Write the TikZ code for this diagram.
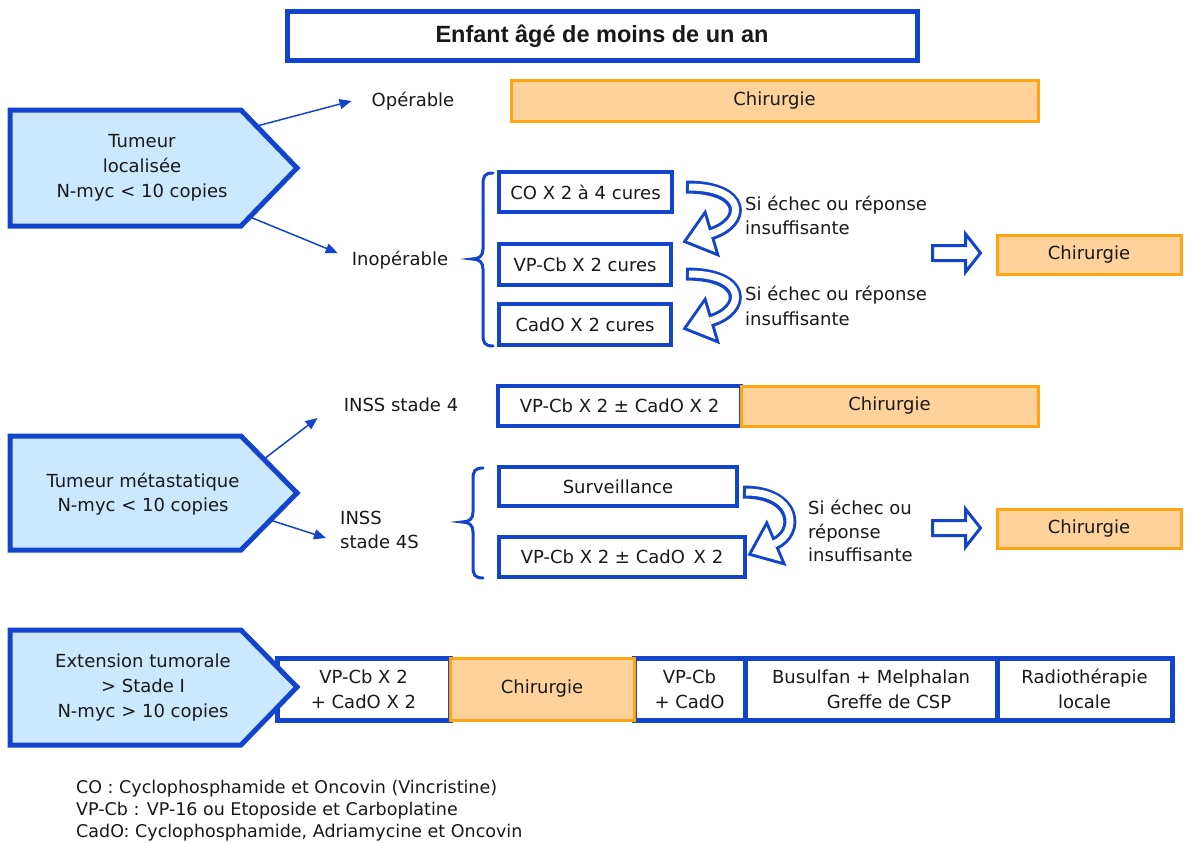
\documentclass[tikz,border=0pt]{standalone}
\usepackage{fontspec}
\setmainfont{DejaVu Sans}
\newfontfamily\titlefont{Liberation Sans}
\usetikzlibrary{arrows.meta,calc}
\definecolor{bblue}{RGB}{18,68,204}
\definecolor{lblue}{RGB}{204,232,255}
\definecolor{oborder}{RGB}{255,165,20}
\definecolor{ofill}{RGB}{255,210,155}
\definecolor{txt}{RGB}{25,25,25}
\newcommand{\hollowcurve}[4]{%
  \draw[bblue, line width=13pt] (#1) .. controls (#2) and (#3) .. (#4);
  \coordinate (hcE) at (#4);
  \coordinate (hcC) at (#3);
  \filldraw[bblue, line width=6pt, line join=miter] ($(hcE)!19pt!90:(hcC)$) -- ($(hcE)!-24pt!(hcC)$) -- ($(hcE)!19pt!-90:(hcC)$) -- cycle;
  \draw[white, line width=7pt, shorten <=3pt] (#1) .. controls (#2) and (#3) .. (#4);
  \fill[white] ($(hcE)!19pt!90:(hcC)$) -- ($(hcE)!-24pt!(hcC)$) -- ($(hcE)!19pt!-90:(hcC)$) -- cycle;
}
\newcommand{\hollowright}[1]{%
  \draw[bblue, line width=3pt, fill=white, line join=miter]
    ($(#1)+(-63,-7.5)$) -- ($(#1)+(-30,-7.5)$) -- ($(#1)+(-30,-19)$) -- ($(#1)+(-15,0)$)
    -- ($(#1)+(-30,19)$) -- ($(#1)+(-30,7.5)$) -- ($(#1)+(-63,7.5)$) -- cycle;
}
\begin{document}
\begin{tikzpicture}[x=1pt,y=-1pt,
  every node/.style={text=txt, font=\fontsize{18}{25}\selectfont},
  bluebox/.style={draw=bblue, line width=4pt, fill=white, inner sep=0pt, align=center},
  orbox/.style={draw=oborder, line width=3pt, fill=ofill, inner sep=0pt, align=center},
  penta/.style={draw=bblue, fill=lblue, line width=5pt, line join=miter},
  thinarr/.style={draw=bblue, line width=1.5pt, -{Triangle[length=12pt,width=10pt]}},
  brace/.style={draw=bblue, line width=3pt, line cap=round},
  lbl/.style={inner sep=0pt},
]
\useasboundingbox[fill=white] (0,0) rectangle (1192,843);

% title
\node[bluebox, line width=5pt, minimum width=630pt, minimum height=49pt,
  font=\titlefont\bfseries\fontsize{23.5}{28}\selectfont] (title) at (602,36.5) {Enfant âgé de moins de un an};

% ---------- section 1
\draw[penta] (10,110) -- (241,110) -- (297,168) -- (241,226) -- (10,226) -- cycle;
\node[lbl, align=center] (t1) at (142,168) {Tumeur\\localisée\\N-myc < 10 copies};
\coordinate (p1a) at (257,126);
\coordinate (p1b) at (250,217);

\node[lbl] (op) at (413,101) {Opérable};
\node[lbl] (inop) at (400,260) {Inopérable};
\draw[thinarr] (p1a) -- ($(op.west)+(-20,0)$);
\draw[thinarr] (p1b) -- ($(inop.west)+(-14,-7)$);

\node[orbox, minimum width=527pt, minimum height=40pt] (ch1) at (774.5,101) {Chirurgie};

\draw[brace] (493,173) .. controls (485,173) and (483,176) .. (483,184) -- (483,249) .. controls (483,256) and (479,259) .. (472,259) .. controls (479,259) and (483,262) .. (483,269) -- (483,335) .. controls (483,343) and (485,346) .. (493,346);

\node[bluebox, minimum width=173pt, minimum height=40pt] (co) at (585.5,192) {CO X 2 à 4 cures};
\node[bluebox, minimum width=172pt, minimum height=41pt] (vp1) at (585,264.5) {VP-Cb X 2 cures};
\node[bluebox, minimum width=172pt, minimum height=41pt] (cado) at (585,324.5) {CadO X 2 cures};

\hollowcurve{$(co.east)+(12,-5)$}{$(co.east)+(73,-5)$}{$(vp1.north east)+(74,-19)$}{$(vp1.north east)+(37,-8)$}
\hollowcurve{$(vp1.east)+(13,9.5)$}{$(vp1.east)+(74,9.5)$}{$(cado.north east)+(74,8)$}{$(cado.north east)+(37,19)$}

\node[lbl, align=left, anchor=west, font=\fontsize{18}{24}\selectfont] (se1) at (745,215) {Si échec ou réponse\\insuffisante};
\node[lbl, align=left, anchor=west, font=\fontsize{18}{25}\selectfont] (se2) at (745,306) {Si échec ou réponse\\insuffisante};

\node[orbox, minimum width=184pt, minimum height=39pt] (ch2) at (1089,255) {Chirurgie};
\hollowright{$(ch2.west)+(0,-2)$}

% ---------- section 2
\draw[penta] (10,436) -- (241,436) -- (297,493) -- (241,550) -- (10,550) -- cycle;
\node[lbl, align=center, font=\fontsize{18}{24}\selectfont] (t2) at (143,494) {Tumeur métastatique\\N-myc < 10 copies};
\coordinate (p2a) at (264,459);
\coordinate (p2b) at (270,520);

\node[lbl] (inss4) at (401,405) {INSS stade 4};
\node[lbl, align=left, anchor=west, font=\fontsize{18}{24}\selectfont] (inss4s) at (340,530) {INSS\\stade 4S};
\draw[thinarr] (p2a) -- ($(inss4.west)+(-26,13)$);
\draw[thinarr] (p2b) -- ($(inss4s.west)+(-14,8)$);

\node[bluebox, minimum width=243pt, minimum height=40pt] (vpc1) at (619.5,406) {VP-Cb X 2 ± CadO X 2};
\node[orbox, minimum width=297pt, minimum height=40pt] (ch3) at (889.5,406) {Chirurgie};

\draw[brace] (483,468) .. controls (475,468) and (473,471) .. (473,479) -- (473,512) .. controls (473,519) and (469,522) .. (462,522) .. controls (469,522) and (473,525) .. (473,532) -- (473,567) .. controls (473,575) and (475,578) .. (483,578);

\node[bluebox, minimum width=238pt, minimum height=39pt] (surv) at (618,486.5) {Surveillance};
\node[bluebox, minimum width=246pt, minimum height=40pt] (vpc2) at (622,557) {VP-Cb X 2 ± CadO\, X 2};

\hollowcurve{$(surv.east)+(4,5.5)$}{$(surv.east)+(58,5.5)$}{$(vpc2.north east)+(53,-2)$}{$(vpc2.north east)+(27,9)$}

\node[lbl, align=left, anchor=west, font=\fontsize{18}{23.5}\selectfont] (se3) at (808,531) {Si échec ou\\réponse\\insuffisante};

\node[orbox, minimum width=184pt, minimum height=39pt] (ch4) at (1089,529) {Chirurgie};
\hollowright{$(ch4.west)+(0,-1)$}

% ---------- section 3
\node[bluebox, line width=5pt, minimum width=173pt, minimum height=62pt] (r3a) at (363.5,689) {VP-Cb X 2\\+ CadO X 2};
\node[bluebox, line width=5pt, minimum width=111pt, minimum height=62pt] (r3c) at (689.5,689) {VP-Cb\\+ CadO};
\node[bluebox, line width=5pt, minimum width=252pt, minimum height=62pt] (r3d) at (871,689) {Busulfan + Melphalan\\\hspace*{36pt}Greffe de CSP};
\node[bluebox, line width=5pt, minimum width=175pt, minimum height=62pt] (r3e) at (1084.5,689) {Radiothérapie\\locale};
\node[orbox, minimum width=184pt, minimum height=62pt] (r3b) at (542,689) {Chirurgie};

\draw[penta] (10,630) -- (241,630) -- (297,687) -- (241,745) -- (10,745) -- cycle;
\node[lbl, align=center] (t3) at (143,688) {Extension tumorale\\> Stade I\\N-myc > 10 copies};

% legend
\node[lbl, align=left, anchor=west, font=\fontsize{17.5}{22}\selectfont] (leg) at (76,811) {CO : Cyclophosphamide et Oncovin (Vincristine)\\VP-Cb : VP-16 ou Etoposide et Carboplatine\\CadO: Cyclophosphamide, Adriamycine et Oncovin};
\end{tikzpicture}
\end{document}
